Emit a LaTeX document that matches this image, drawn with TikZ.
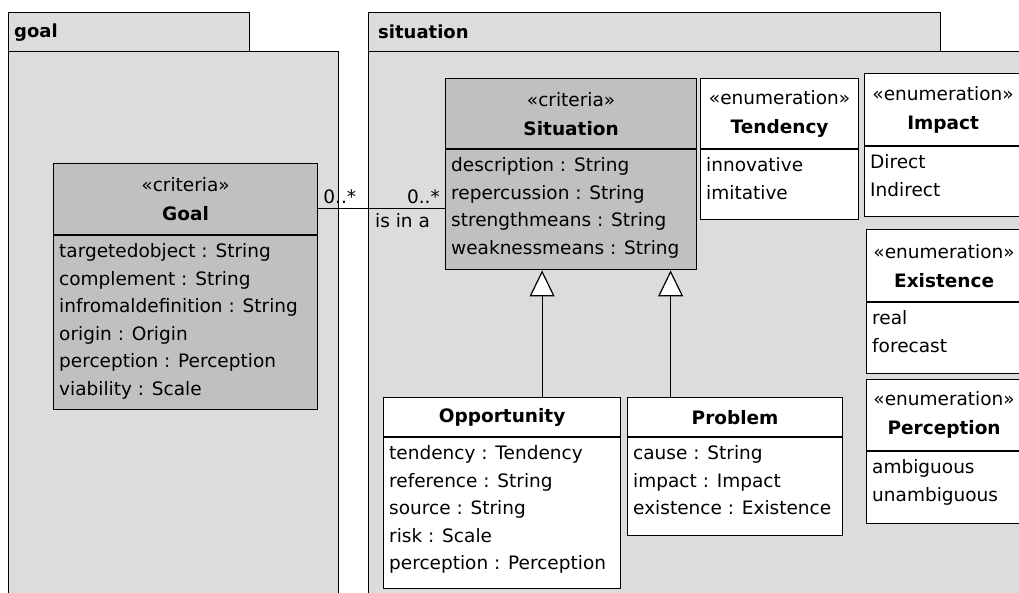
\documentclass[tikz,border=0pt]{standalone}
\usepackage{fontspec}
\setmainfont{DejaVu Sans}
\usetikzlibrary{arrows.meta,positioning}
\definecolor{pkgcolor}{RGB}{222,219,219}
\definecolor{critcolor}{RGB}{192,192,192}

\begin{document}
\begin{tikzpicture}[x=1pt, y=1pt,
        pkg/.style={draw=black, line width=1.3pt, fill=pkgcolor, inner sep=0pt, anchor=north west},
        pkgname/.style={anchor=west, inner sep=0pt, font=\fontsize{18}{20}\selectfont\bfseries},
        head/.style={draw=black, line width=1.2pt, anchor=north west, inner sep=0pt, align=center, font=\fontsize{18.5}{29}\selectfont},
        body/.style={draw=black, line width=1.2pt, anchor=north west, inner sep=0pt},
        attrs/.style={anchor=north west, align=left, inner xsep=6pt, inner ysep=3pt, font=\fontsize{18.5}{27.5}\selectfont},
        crit/.style={fill=critcolor},
        enum/.style={fill=white},
        gen/.style={-{Triangle[fill=white, length=26pt, width=25pt]}, line width=1.2pt},
        assoc/.style={line width=1.2pt},
        mult/.style={inner sep=0pt, font=\fontsize{18.5}{20}\selectfont}
    ]
    \useasboundingbox (0,0) rectangle (1019,-592);
    \fill[white] (0,0) rectangle (1019,-592);

    % packages
    \node[pkg, minimum width=330, minimum height=570] (goalpkg) at (8,-51) {};
    \node[pkg, minimum width=241, minimum height=39] (goaltab) at (8,-12) {};
    \node[pkgname] (goalname) at ([xshift=6pt]goaltab.west) {goal};
    \node[pkg, minimum width=680, minimum height=570] (sitpkg) at (368,-51) {};
    \node[pkg, minimum width=572, minimum height=39] (sittab) at (368,-12) {};
    \node[pkgname] (sitname) at ([xshift=10pt]sittab.west) {situation};

    % Goal
    \node[head, crit, minimum width=264, minimum height=71] (goalhead) at (53,-163) {«criteria»\\\textbf{Goal}};
    \node[body, crit, minimum width=264, minimum height=174] (goalbody) at (goalhead.south west) {};
    \node[attrs] (goalattrs) at (goalbody.north west) {\strut targetedobject : String\\complement : String\\infromaldefinition : String\\origin : Origin\\perception : Perception\\viability : Scale};

    % Situation
    \node[head, crit, minimum width=251, minimum height=70] (sithead) at (445,-78) {«criteria»\\\textbf{Situation}};
    \node[body, crit, minimum width=251, minimum height=120] (sitbody) at (sithead.south west) {};
    \node[attrs] (sitattrs) at (sitbody.north west) {\strut description : String\\repercussion : String\\strengthmeans : String\\weaknessmeans : String};

    % enumerations
    \node[head, enum, minimum width=158, minimum height=70] (tendhead) at (700,-78) {«enumeration»\\\textbf{Tendency}};
    \node[body, enum, minimum width=158, minimum height=70] (tendbody) at (tendhead.south west) {};
    \node[attrs] (tendattrs) at (tendbody.north west) {\strut innovative\\imitative};

    \node[head, enum, minimum width=157, minimum height=72] (imphead) at (864,-73) {«enumeration»\\\textbf{Impact}};
    \node[body, enum, minimum width=157, minimum height=70] (impbody) at (imphead.south west) {};
    \node[attrs] (impattrs) at (impbody.north west) {\strut Direct\\Indirect};

    \node[head, enum, minimum width=155, minimum height=72] (exhead) at (866,-229) {«enumeration»\\\textbf{Existence}};
    \node[body, enum, minimum width=155, minimum height=71] (exbody) at (exhead.south west) {};
    \node[attrs] (exattrs) at (exbody.north west) {\strut real\\forecast};

    \node[head, enum, minimum width=155, minimum height=71] (perchead) at (866,-379) {«enumeration»\\\textbf{Perception}};
    \node[body, enum, minimum width=155, minimum height=72] (percbody) at (perchead.south west) {};
    \node[attrs] (percattrs) at (percbody.north west) {\strut ambiguous\\unambiguous};

    % subclasses
    \node[head, enum, minimum width=237, minimum height=39] (opphead) at (383,-397) {\textbf{Opportunity}};
    \node[body, enum, minimum width=237, minimum height=151] (oppbody) at (opphead.south west) {};
    \node[attrs] (oppattrs) at (oppbody.north west) {\strut tendency : Tendency\\reference : String\\source : String\\risk : Scale\\perception : Perception};

    \node[head, enum, minimum width=215, minimum height=39] (probhead) at (627,-397) {\textbf{Problem}};
    \node[body, enum, minimum width=215, minimum height=98] (probbody) at (probhead.south west) {};
    \node[attrs] (probattrs) at (probbody.north west) {\strut cause : String\\impact : Impact\\existence : Existence};

    % generalizations
    \draw[gen] ([xshift=40pt]opphead.north) -- ([xshift=40pt]opphead.north |- sitbody.south);
    \draw[gen] ([xshift=-64.5pt]probhead.north) -- ([xshift=-64.5pt]probhead.north |- sitbody.south);

    % association
    \coordinate (assocL) at ([yshift=-9.5pt]goalhead.east);
    \coordinate (assocR) at (assocL -| sitbody.west);
    \draw[assoc] (assocL) -- (assocR);
    \node[mult, anchor=base west] (multgoal) at ([xshift=5pt, yshift=5pt]assocL) {0..*};
    \node[mult, anchor=base east] (multsit) at ([xshift=-5pt, yshift=5pt]assocR) {0..*};
    \node[mult, anchor=north west] (rolename) at ([xshift=-70pt, yshift=-5pt]assocR) {is in a};
\end{tikzpicture}
\end{document}
